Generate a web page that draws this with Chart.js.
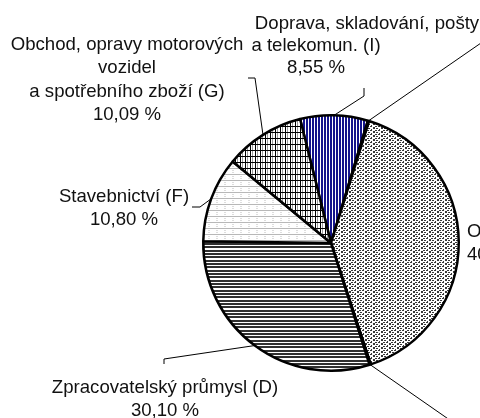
<!DOCTYPE html>
<html>
<head>
<meta charset="utf-8">
<script src="https://cdn.jsdelivr.net/npm/chart.js@4.4.0/dist/chart.umd.min.js"></script>
<style>
  html, body { margin: 0; padding: 0; background: #ffffff; }
  #wrap { width: 480px; height: 418px; position: relative; }
</style>
</head>
<body>
<div id="wrap"><canvas id="c" width="480" height="418"></canvas></div>
<script>
// ---- data ----
const categories = [
  "Doprava, skladování, pošty a telekomun. (I)",
  "",
  "Ostatní",
  "",
  "Zpracovatelský průmysl (D)",
  "Stavebnictví (F)",
  "Obchod, opravy motorových vozidel a spotřebního zboží (G)"
];
const shares = [8.55, 0.15, 40.16, 0.15, 30.10, 10.80, 10.09];
const shareLabels = ["8,55 %", "", "40,16 %", "", "30,10 %", "10,80 %", "10,09 %"];

// ---- patterns ----
function makePattern(w, h, draw) {
  const c = document.createElement('canvas');
  c.width = w; c.height = h;
  const x = c.getContext('2d');
  x.fillStyle = '#ffffff';
  x.fillRect(0, 0, w, h);
  draw(x);
  return x.createPattern(c, 'repeat');
}
const ctxMain = document.getElementById('c').getContext('2d');
const patI = makePattern(3, 1, x => { x.fillStyle = '#14148c'; x.fillRect(0, 0, 2, 1); });
const patO = makePattern(8, 4, x => {
  x.fillStyle = '#383838';
  x.fillRect(0, 0, 2, 1); x.fillRect(5, 0, 2, 1);
  x.fillRect(3, 1, 1, 1);
  x.fillRect(2, 2, 2, 1); x.fillRect(7, 2, 1, 1); x.fillRect(0, 2, 1, 1);
  x.fillRect(5, 3, 2, 1);
});
const patD = makePattern(1, 10, x => {
  x.fillStyle = '#303030';
  [0, 1, 3, 4, 6, 7].forEach(r => x.fillRect(0, r, 1, 1));
});
const patF = makePattern(8, 6, x => {
  x.fillStyle = '#b8b8b8'; x.fillRect(0, 0, 8, 1);
  x.fillStyle = '#dddddd'; x.fillRect(0, 2, 2, 1); x.fillRect(0, 4, 2, 1);
});
const patG = makePattern(5, 6, x => {
  x.fillStyle = '#000000'; x.fillRect(0, 0, 5, 1); x.fillRect(0, 0, 1, 6);
  x.fillStyle = '#9a9a9a'; x.fillRect(2, 1, 1, 5);
});
const fills = [patI, patO, patO, patO, patD, patF, patG];

// ---- label layout (text blocks and leader lines) ----
const labelBlocks = [
  { idx: 0, lines: [["Doprava, skladování, pošty", 367], ["a telekomun. (I)", 316], [shareLabels[0], 316]], y: 29, lh: 22, align: 'center',
    leader: [[364, 96], [364, 88]] },
  { idx: 1, lines: [], leader: [[520, 16]] },
  { idx: 2, lines: [[categories[2], 467], [shareLabels[2], 467]], y: 237, lh: 23, align: 'left', leader: null },
  { idx: 3, lines: [], leader: [[490, 448]] },
  { idx: 4, lines: [["Zpracovatelský průmysl (D)", 165], [shareLabels[4], 165]], y: 393, lh: 23, align: 'center',
    leader: [[164, 359], [164, 364]] },
  { idx: 5, lines: [["Stavebnictví (F)", 124], [shareLabels[5], 124]], y: 202, lh: 23, align: 'center',
    leader: [[200, 207], [192, 207]] },
  { idx: 6, lines: [["Obchod, opravy motorových", 127], ["vozidel", 127], ["a spotřebního zboží (G)", 127], [shareLabels[6], 127]], y: 50, lh: 23.3, align: 'center',
    leader: [[255, 78], [248, 78]] }
];

const labelPlugin = {
  id: 'pieLabels',
  afterDraw(chart) {
    const ctx = chart.ctx;
    const meta = chart.getDatasetMeta(0);
    ctx.save();
    ctx.strokeStyle = '#000000';
    ctx.lineWidth = 1;
    labelBlocks.forEach(b => {
      const arc = meta.data[b.idx];
      if (b.leader) {
        const mid = (arc.startAngle + arc.endAngle) / 2;
        const px = arc.x + arc.outerRadius * Math.cos(mid);
        const py = arc.y + arc.outerRadius * Math.sin(mid);
        ctx.beginPath();
        ctx.moveTo(px, py);
        b.leader.forEach(p => ctx.lineTo(p[0], p[1]));
        ctx.stroke();
      }
      ctx.fillStyle = '#111111';
      ctx.font = '18.6px "Liberation Sans", Arial, sans-serif';
      ctx.textAlign = b.align || 'center';
      ctx.textBaseline = 'alphabetic';
      b.lines.forEach((ln, i) => ctx.fillText(ln[0], ln[1], b.y + i * b.lh));
    });
    ctx.restore();
  }
};

new Chart(ctxMain, {
  type: 'pie',
  data: {
    labels: categories,
    datasets: [{
      data: shares,
      backgroundColor: fills,
      borderColor: '#000000',
      borderWidth: 2.5
    }]
  },
  options: {
    responsive: false,
    animation: false,
    rotation: -14,
    layout: { padding: { left: 202, right: 20, top: 114, bottom: 46 } },
    plugins: { legend: { display: false }, tooltip: { enabled: false } },
    events: []
  },
  plugins: [labelPlugin]
});
</script>
</body>
</html>
